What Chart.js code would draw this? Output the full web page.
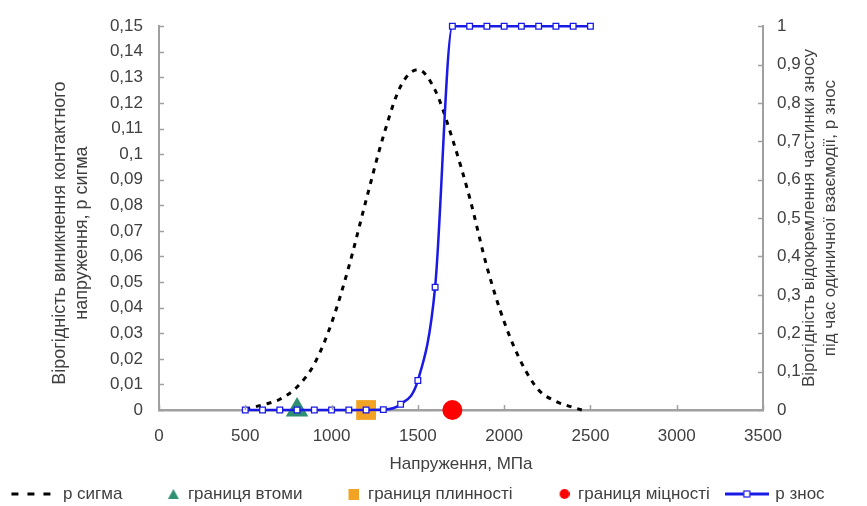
<!DOCTYPE html>
<html>
<head>
<meta charset="utf-8">
<script src="https://cdn.jsdelivr.net/npm/chart.js@4.4.1/dist/chart.umd.min.js"></script>
<style>
  html, body { margin: 0; padding: 0; background: #ffffff; }
  #wrap { width: 867px; height: 506px; position: relative; }
</style>
</head>
<body>
<div id="wrap"><canvas id="c" width="867" height="506"></canvas></div>
<script>
// ---- data ----
const sigmaX = [500, 600, 700, 800, 900, 1000, 1100, 1200, 1300, 1400, 1500, 1600, 1700, 1800, 1900, 2000, 2100, 2200, 2300, 2400, 2450];
const sigmaY = [0.0003, 0.002, 0.0042, 0.009, 0.018, 0.034, 0.056, 0.082, 0.107, 0.1265, 0.133, 0.125, 0.106, 0.083, 0.056, 0.0345, 0.0185, 0.0078, 0.0034, 0.001, 0];
const wearX = [500, 600, 700, 800, 900, 1000, 1100, 1200, 1300, 1400, 1500, 1600, 1700, 1800, 1900, 2000, 2100, 2200, 2300, 2400, 2500];
const wearY = [0, 0, 0, 0, 0, 0, 0, 0, 0.001, 0.015, 0.077, 0.32, 1, 1, 1, 1, 1, 1, 1, 1, 1];
const fatigueX = [800];   const fatigueY = [0];
const yieldX = [1200];    const yieldY = [0];
const strengthX = [1700]; const strengthY = [0];

const seriesNames = ['p сигма', 'границя втоми', 'границя плинності', 'границя міцності', 'p знос'];
const xTickLabels = ['0', '500', '1000', '1500', '2000', '2500', '3000', '3500'];
const yTickLabels = ['0', '0,01', '0,02', '0,03', '0,04', '0,05', '0,06', '0,07', '0,08', '0,09', '0,1', '0,11', '0,12', '0,13', '0,14', '0,15'];
const y2TickLabels = ['0', '0,1', '0,2', '0,3', '0,4', '0,5', '0,6', '0,7', '0,8', '0,9', '1'];
const xTitle = 'Напруження, МПа';
const yTitle = ['Вірогідність виникнення контактного', 'напруження, p сигма'];
const y2Title = ['Вірогідність відокремлення частинки зносу', 'під час одиничної взаємодії, p знос'];

const pts = (xs, ys) => xs.map((x, i) => ({x: x, y: ys[i]}));

// ---- styles ----
const FONT = '"Liberation Sans", Arial, sans-serif';
const TXT = '#404040';
const AXIS = '#a0a0a0';
const BLUE = '#1a1ae6';
const GREEN = '#2f8f72';
const ORANGE = '#f2a324';
const RED = '#ff0000';

// legend icons (canvas images)
const ICON_W = 40;
function icon(drawFn, w) {
  const c = document.createElement('canvas');
  c.width = w || ICON_W; c.height = 16;
  const g = c.getContext('2d');
  drawFn(g);
  return c;
}
const iconSigma = icon(g => {
  g.strokeStyle = '#000'; g.lineWidth = 3; g.setLineDash([7, 9]);
  g.beginPath(); g.moveTo(1, 8); g.lineTo(46, 8); g.stroke();
}, 48);
const iconFat = icon(g => {
  g.fillStyle = GREEN; g.beginPath(); g.moveTo(34, 3); g.lineTo(39.5, 13); g.lineTo(28.5, 13); g.closePath(); g.fill();
});
const iconYield = icon(g => { g.fillStyle = ORANGE; g.fillRect(29, 3, 11, 11); });
const iconStr = icon(g => { g.fillStyle = RED; g.beginPath(); g.arc(35, 8, 5, 0, Math.PI * 2); g.fill(); });
const iconWear = icon(g => {
  g.strokeStyle = BLUE; g.lineWidth = 3; g.beginPath(); g.moveTo(0, 8); g.lineTo(44, 8); g.stroke();
  g.fillStyle = '#fff'; g.lineWidth = 1.2; g.fillRect(19, 5, 6, 6); g.strokeRect(19, 5, 6, 6);
}, 44);
const icons = [iconSigma, iconFat, iconYield, iconStr, iconWear];

// inside tick marks + axis titles (both reading bottom-to-top)
const decor = {
  id: 'decor',
  afterDraw(chart) {
    const ctx = chart.ctx;
    const x = chart.scales.x, y = chart.scales.y, y2 = chart.scales.y2;
    ctx.save();
    ctx.strokeStyle = AXIS; ctx.lineWidth = 1.5;
    x.ticks.forEach(t => {
      const px = Math.round(x.getPixelForValue(t.value)) + 0.5;
      ctx.beginPath(); ctx.moveTo(px, x.top); ctx.lineTo(px, x.top - 5); ctx.stroke();
    });
    y.ticks.forEach(t => {
      const py = Math.round(y.getPixelForValue(t.value)) + 0.5;
      ctx.beginPath(); ctx.moveTo(y.right, py); ctx.lineTo(y.right + 5, py); ctx.stroke();
    });
    y2.ticks.forEach(t => {
      const py = Math.round(y2.getPixelForValue(t.value)) + 0.5;
      ctx.beginPath(); ctx.moveTo(y2.left, py); ctx.lineTo(y2.left - 5, py); ctx.stroke();
    });
    ctx.fillStyle = TXT;
    ctx.textAlign = 'center'; ctx.textBaseline = 'middle';
    const cy = (chart.chartArea.top + chart.chartArea.bottom) / 2;
    const drawTitle = (lines, x0, step, yc, size) => {
      ctx.font = size + 'px ' + FONT;
      lines.forEach((line, i) => {
        ctx.save();
        ctx.translate(x0 + i * step, yc);
        ctx.rotate(-Math.PI / 2);
        ctx.fillText(line, 0, 0);
        ctx.restore();
      });
    };
    drawTitle(yTitle, y.right - 99, 22, cy + 15, 18);
    drawTitle(y2Title, y2.left + 46, 21, cy, 17);
    ctx.restore();
  }
};

const markerBase = { showLine: false, clip: false, yAxisID: 'y', borderWidth: 0, pointHoverRadius: 0 };

new Chart(document.getElementById('c'), {
  type: 'line',
  data: {
    datasets: [
      { label: seriesNames[0], data: pts(sigmaX, sigmaY), yAxisID: 'y', borderColor: '#000', borderWidth: 3,
        borderDash: [5, 6], pointRadius: 0, cubicInterpolationMode: 'monotone', clip: false, order: 2 },
      Object.assign({ label: seriesNames[1], data: pts(fatigueX, fatigueY), pointStyle: 'triangle', pointRadius: 13,
        backgroundColor: GREEN, pointBackgroundColor: GREEN, order: 3 }, markerBase),
      Object.assign({ label: seriesNames[2], data: pts(yieldX, yieldY), pointStyle: 'rect', pointRadius: 14,
        backgroundColor: ORANGE, pointBackgroundColor: ORANGE, order: 3 }, markerBase),
      Object.assign({ label: seriesNames[3], data: pts(strengthX, strengthY), pointStyle: 'circle', pointRadius: 10,
        backgroundColor: RED, pointBackgroundColor: RED, order: 3 }, markerBase),
      { label: seriesNames[4], data: pts(wearX, wearY), yAxisID: 'y2', borderColor: BLUE, borderWidth: 2.5,
        cubicInterpolationMode: 'monotone', pointStyle: 'rect', pointRadius: 4, pointBackgroundColor: '#fff',
        pointBorderColor: BLUE, pointBorderWidth: 1.3, clip: false, order: 1 }
    ]
  },
  options: {
    responsive: false,
    animation: false,
    events: [],
    layout: { padding: { left: -14, right: 14, top: 20, bottom: -6.5 } },
    scales: {
      x: {
        type: 'linear', min: 0, max: 3500,
        afterFit: s => { s.height = 58.5; },
        grid: { display: false, drawTicks: false },
        border: { display: true, color: AXIS, width: 2.5 },
        ticks: { stepSize: 500, autoSkip: false, maxRotation: 0, padding: 16, color: TXT,
          font: { family: FONT, size: 17 },
          callback: v => xTickLabels[Math.round(v / 500)] },
        title: { display: true, text: xTitle, color: TXT, font: { family: FONT, size: 17, lineHeight: '20px' },
          padding: { top: 0, bottom: -5.5 } }
      },
      y: {
        type: 'linear', position: 'left', min: 0, max: 0.15,
        afterFit: s => { s.width = 173; },
        grid: { display: false, drawTicks: false },
        border: { display: true, color: AXIS, width: 2 },
        ticks: { stepSize: 0.01, autoSkip: false, padding: 16, color: TXT,
          font: { family: FONT, size: 17 },
          callback: v => yTickLabels[Math.round(v / 0.01)] },
        title: { display: false }
      },
      y2: {
        type: 'linear', position: 'right', min: 0, max: 1,
        afterFit: s => { s.width = 90; },
        grid: { display: false, drawTicks: false },
        border: { display: true, color: AXIS, width: 2 },
        ticks: { stepSize: 0.1, autoSkip: false, padding: 14, color: TXT,
          font: { family: FONT, size: 17 },
          callback: v => y2TickLabels[Math.round(v / 0.1)] }
      }
    },
    plugins: {
      tooltip: { enabled: false },
      legend: {
        position: 'bottom',
        labels: {
          usePointStyle: true, pointStyleWidth: ICON_W, boxHeight: 16, padding: 17,
          color: TXT, font: { family: FONT, size: 17 },
          generateLabels: chart => chart.data.datasets.map((d, i) => ({
            text: d.label, pointStyle: icons[i], fontColor: TXT, lineWidth: 0,
            strokeStyle: 'rgba(0,0,0,0)', fillStyle: 'rgba(0,0,0,0)', datasetIndex: i, hidden: false
          }))
        }
      }
    }
  },
  plugins: [decor]
});
</script>
</body>
</html>
